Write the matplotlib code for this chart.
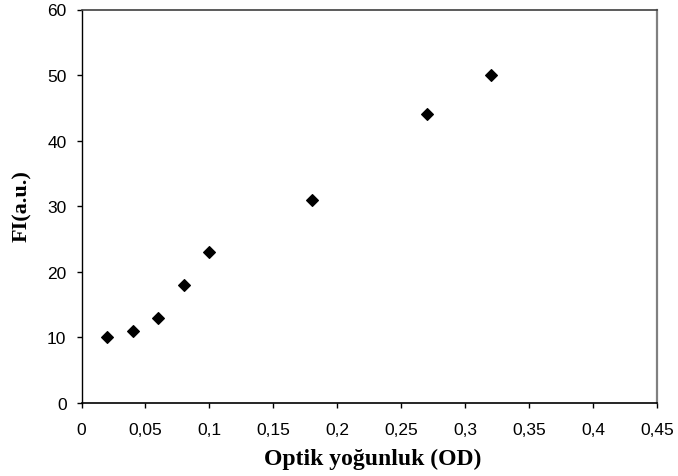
import matplotlib
matplotlib.use("Agg")
import matplotlib.pyplot as plt
from matplotlib.ticker import FuncFormatter

od = [0.02, 0.04, 0.06, 0.08, 0.10, 0.18, 0.27, 0.32]
fi = [10, 11, 13, 18, 23, 31, 44, 50]
xticks = [0, 0.05, 0.1, 0.15, 0.2, 0.25, 0.3, 0.35, 0.4, 0.45]
yticks = [0, 10, 20, 30, 40, 50, 60]

fig = plt.figure(figsize=(6.78, 4.77), dpi=100)
L, R, T, B = 81.5, 657, 10.5, 404
ax = fig.add_axes([L/678, 1-B/477, (R-L)/678, (B-T)/477])
ax.plot(od, fi, linestyle='none', marker='D', color='black', markersize=6.3,
        markeredgewidth=0.8)
ax.set_xlim(0, 0.45)
ax.set_ylim(0, 60)
ax.set_xticks(xticks)
ax.set_yticks(yticks)

def fmt(v, pos):
    s = ('%.2f' % v).rstrip('0').rstrip('.')
    return s.replace('.', ',')
ax.xaxis.set_major_formatter(FuncFormatter(fmt))
ax.tick_params(direction='out', length=3.8, width=1, color='black', labelsize=12.5)
ax.tick_params(axis='x', pad=10)
ax.tick_params(axis='y', pad=7)
for lab in ax.get_xticklabels() + ax.get_yticklabels():
    lab.set_fontfamily('Liberation Sans')
ax.spines['left'].set_color('black')
ax.spines['bottom'].set_color('black')
ax.spines['top'].set_color('#404040')
ax.spines['right'].set_color('#808080')
ax.spines['left'].set_linewidth(1)
ax.spines['bottom'].set_linewidth(1.2)
ax.spines['top'].set_linewidth(1.2)
ax.spines['right'].set_linewidth(1.6)
ax.set_xlabel('Optik yoğunluk (OD)', fontfamily='Liberation Serif', fontweight='bold',
              fontsize=17, va='center', ha='center')
ax.set_ylabel('FI(a.u.)', fontfamily='Liberation Serif', fontweight='bold',
              fontsize=16, va='center', ha='center')
ax.xaxis.set_label_coords((373-L)/(R-L), (B-459)/(B-T))
ax.yaxis.set_label_coords((22.5-L)/(R-L), (B-206)/(B-T))
fig.savefig('out.png', dpi=100)
